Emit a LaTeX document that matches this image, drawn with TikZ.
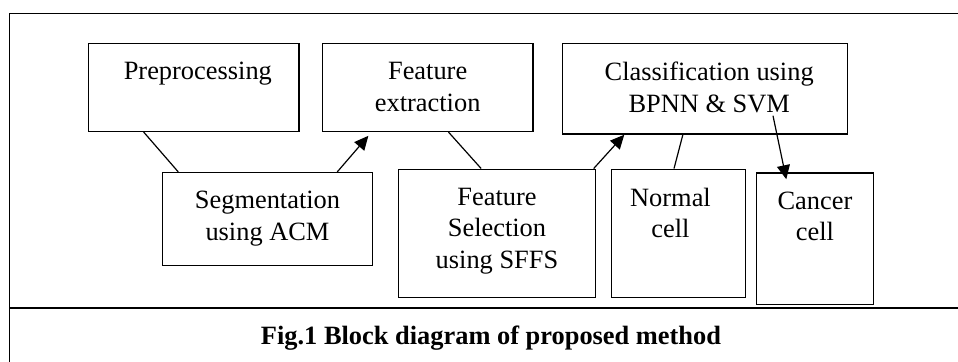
\documentclass[tikz,border=0pt]{standalone}
\usepackage{fontspec}
\setmainfont{Liberation Serif}
\usetikzlibrary{arrows.meta, positioning, calc, fit}
\newcommand{\diagfont}{\fontsize{13.2}{15.8}\selectfont}

\begin{document}
\begin{tikzpicture}[
    x=0.5pt, y=-0.5pt,
    box/.style={draw, line width=0.75pt, inner sep=0pt},
    lbl/.style={anchor=north, inner sep=0pt, yshift=-9.5pt, align=center, font=\diagfont},
    lnk/.style={line width=0.6pt},
    arr/.style={lnk, -{Triangle[length=7pt, width=6.5pt]}}
]
\useasboundingbox (0,0) rectangle (958,362);
\draw[line width=0.75pt] (958,13.5) -- (9.5,13.5) -- (9.5,362);
\draw[line width=0.75pt] (9.5,308) -- (958,308);

\node[box, fit={(88.7,43.7) (299,131.3)}, label={[lbl, xshift=2pt]north:Preprocessing}] (prep) {};
\node[box, fit={(322.3,43.7) (533,131.3)}, label={[lbl]north:Feature\\extraction}] (fext) {};
\node[box, fit={(562.7,43.7) (847.7,134)}, label={[lbl, xshift=2pt]north:Classification using\\BPNN \& SVM}] (cls) {};
\node[box, fit={(162.3,172.7) (372.7,265.7)}, label={[lbl]north:Segmentation\\using ACM}] (seg) {};
\node[box, fit={(398.7,169.3) (595.3,297.7)}, label={[lbl]north:Feature\\Selection\\using SFFS}] (fsel) {};
\node[box, fit={(611.3,169.3) (745.7,297.7)}, label={[lbl, xshift=-4pt]north:Normal\\cell}] (norm) {};
\node[box, fit={(756.3,173) (873.7,304.3)}, label={[lbl]north:Cancer\\cell}] (canc) {};

\node[font=\diagfont\bfseries] (caption) at (491,338) {Fig.1 Block diagram of proposed method};

\draw[lnk] ($(prep.south west)!0.263!(prep.south east)$) -- ($(seg.north west)!0.079!(seg.north east)$);
\draw[arr, shorten >=2.5pt] ($(seg.north west)!0.829!(seg.north east)$) -- ($(fext.south west)!0.236!(fext.south east)$);
\draw[lnk] ($(fext.south west)!0.598!(fext.south east)$) -- ($(fsel.north west)!0.42!(fsel.north east)$);
\draw[arr] ($(fsel.north west)!0.988!(fsel.north east)$) -- ($(cls.south west)!0.2175!(cls.south east)$);
\draw[lnk] ($(cls.south west)!0.422!(cls.south east)$) -- ($(norm.north west)!0.467!(norm.north east)$);
\draw[arr] ($(cls.south)+(67.8,-19)$) -- ($(canc.north)+(-28.7,7)$);
\end{tikzpicture}
\end{document}
